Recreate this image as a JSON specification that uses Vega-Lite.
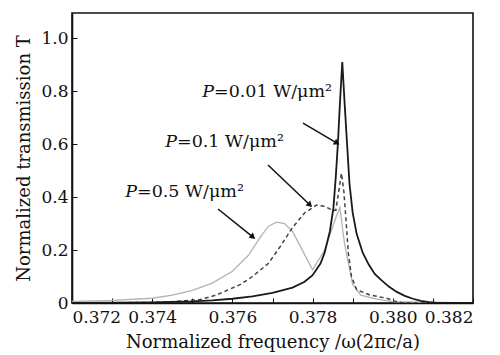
{
  "$schema": "https://vega.github.io/schema/vega-lite/v6.json",
  "width": 401,
  "height": 290,
  "autosize": "none",
  "padding": {"left": 72, "top": 13, "right": 27, "bottom": 52},
  "background": "white",
  "config": {
    "view": {"stroke": "#111", "strokeWidth": 1.6},
    "font": "DejaVu Serif",
    "axis": {
      "domainColor": "#111", "domainWidth": 1.6, "tickColor": "#111", "tickWidth": 1,
      "labelFont": "DejaVu Serif", "titleFont": "DejaVu Serif", "labelColor": "#111", "titleColor": "#111",
      "labelFontSize": 17, "titleFontSize": 18, "titleFontWeight": "normal", "grid": false
    }
  },
  "datasets": {
    "curves": [
      {"f": 0.3720, "T": 0.0, "s": "P=0.01"},
      {"f": 0.3740, "T": 0.002, "s": "P=0.01"},
      {"f": 0.3750, "T": 0.006, "s": "P=0.01"},
      {"f": 0.3755, "T": 0.010, "s": "P=0.01"},
      {"f": 0.3760, "T": 0.016, "s": "P=0.01"},
      {"f": 0.3765, "T": 0.025, "s": "P=0.01"},
      {"f": 0.3770, "T": 0.038, "s": "P=0.01"},
      {"f": 0.3775, "T": 0.058, "s": "P=0.01"},
      {"f": 0.3778, "T": 0.08, "s": "P=0.01"},
      {"f": 0.3780, "T": 0.105, "s": "P=0.01"},
      {"f": 0.3782, "T": 0.15, "s": "P=0.01"},
      {"f": 0.3783, "T": 0.19, "s": "P=0.01"},
      {"f": 0.37843, "T": 0.27, "s": "P=0.01"},
      {"f": 0.37852, "T": 0.36, "s": "P=0.01"},
      {"f": 0.37858, "T": 0.48, "s": "P=0.01"},
      {"f": 0.37863, "T": 0.60, "s": "P=0.01"},
      {"f": 0.37868, "T": 0.75, "s": "P=0.01"},
      {"f": 0.37874, "T": 0.91, "s": "P=0.01"},
      {"f": 0.37880, "T": 0.75, "s": "P=0.01"},
      {"f": 0.37886, "T": 0.60, "s": "P=0.01"},
      {"f": 0.37892, "T": 0.45, "s": "P=0.01"},
      {"f": 0.37900, "T": 0.34, "s": "P=0.01"},
      {"f": 0.37910, "T": 0.26, "s": "P=0.01"},
      {"f": 0.37925, "T": 0.19, "s": "P=0.01"},
      {"f": 0.37940, "T": 0.145, "s": "P=0.01"},
      {"f": 0.37955, "T": 0.11, "s": "P=0.01"},
      {"f": 0.37970, "T": 0.088, "s": "P=0.01"},
      {"f": 0.37990, "T": 0.062, "s": "P=0.01"},
      {"f": 0.38010, "T": 0.042, "s": "P=0.01"},
      {"f": 0.38030, "T": 0.027, "s": "P=0.01"},
      {"f": 0.38050, "T": 0.016, "s": "P=0.01"},
      {"f": 0.38070, "T": 0.008, "s": "P=0.01"},
      {"f": 0.38090, "T": 0.003, "s": "P=0.01"},
      {"f": 0.38110, "T": 0.0, "s": "P=0.01"},
      {"f": 0.38200, "T": 0.0, "s": "P=0.01"},

      {"f": 0.3720, "T": 0.0, "s": "P=0.1"},
      {"f": 0.3740, "T": 0.002, "s": "P=0.1"},
      {"f": 0.3745, "T": 0.005, "s": "P=0.1"},
      {"f": 0.3752, "T": 0.013, "s": "P=0.1"},
      {"f": 0.3756, "T": 0.03, "s": "P=0.1"},
      {"f": 0.3759, "T": 0.05, "s": "P=0.1"},
      {"f": 0.3762, "T": 0.07, "s": "P=0.1"},
      {"f": 0.3765, "T": 0.10, "s": "P=0.1"},
      {"f": 0.3769, "T": 0.15, "s": "P=0.1"},
      {"f": 0.3772, "T": 0.215, "s": "P=0.1"},
      {"f": 0.3775, "T": 0.285, "s": "P=0.1"},
      {"f": 0.3778, "T": 0.34, "s": "P=0.1"},
      {"f": 0.3781, "T": 0.37, "s": "P=0.1"},
      {"f": 0.3783, "T": 0.365, "s": "P=0.1"},
      {"f": 0.3785, "T": 0.35, "s": "P=0.1"},
      {"f": 0.37858, "T": 0.35, "s": "P=0.1"},
      {"f": 0.37865, "T": 0.42, "s": "P=0.1"},
      {"f": 0.37872, "T": 0.49, "s": "P=0.1"},
      {"f": 0.37878, "T": 0.42, "s": "P=0.1"},
      {"f": 0.37883, "T": 0.32, "s": "P=0.1"},
      {"f": 0.37889, "T": 0.19, "s": "P=0.1"},
      {"f": 0.37897, "T": 0.10, "s": "P=0.1"},
      {"f": 0.37910, "T": 0.05, "s": "P=0.1"},
      {"f": 0.37943, "T": 0.03, "s": "P=0.1"},
      {"f": 0.37985, "T": 0.018, "s": "P=0.1"},
      {"f": 0.38005, "T": 0.007, "s": "P=0.1"},
      {"f": 0.38025, "T": 0.0, "s": "P=0.1"},
      {"f": 0.38200, "T": 0.0, "s": "P=0.1"},

      {"f": 0.3720, "T": 0.006, "s": "P=0.5"},
      {"f": 0.3730, "T": 0.01, "s": "P=0.5"},
      {"f": 0.3740, "T": 0.018, "s": "P=0.5"},
      {"f": 0.3745, "T": 0.03, "s": "P=0.5"},
      {"f": 0.3750, "T": 0.048, "s": "P=0.5"},
      {"f": 0.3755, "T": 0.075, "s": "P=0.5"},
      {"f": 0.3760, "T": 0.12, "s": "P=0.5"},
      {"f": 0.3764, "T": 0.18, "s": "P=0.5"},
      {"f": 0.3767, "T": 0.25, "s": "P=0.5"},
      {"f": 0.3769, "T": 0.29, "s": "P=0.5"},
      {"f": 0.3771, "T": 0.305, "s": "P=0.5"},
      {"f": 0.3773, "T": 0.30, "s": "P=0.5"},
      {"f": 0.3775, "T": 0.27, "s": "P=0.5"},
      {"f": 0.3780, "T": 0.125, "s": "P=0.5"},
      {"f": 0.3783, "T": 0.2, "s": "P=0.5"},
      {"f": 0.3786, "T": 0.33, "s": "P=0.5"},
      {"f": 0.37868, "T": 0.36, "s": "P=0.5"},
      {"f": 0.3788, "T": 0.22, "s": "P=0.5"},
      {"f": 0.3790, "T": 0.07, "s": "P=0.5"},
      {"f": 0.3792, "T": 0.03, "s": "P=0.5"},
      {"f": 0.3796, "T": 0.015, "s": "P=0.5"},
      {"f": 0.3800, "T": 0.005, "s": "P=0.5"},
      {"f": 0.3820, "T": 0.0, "s": "P=0.5"}
    ],
    "arrows": [
      {"id": 1, "f1": 0.377761, "T1": 0.679, "f2": 0.378608, "T2": 0.604},
      {"id": 2, "f1": 0.376888, "T1": 0.521, "f2": 0.377935, "T2": 0.370},
      {"id": 3, "f1": 0.375641, "T1": 0.355, "f2": 0.376514, "T2": 0.249}
    ],
    "labels": [
      {"f": 0.375541, "T": 0.796, "rest": "=0.01 W/μm²"},
      {"f": 0.374618, "T": 0.608, "rest": "=0.1 W/μm²"},
      {"f": 0.373621, "T": 0.419, "rest": "=0.5 W/μm²"}
    ]
  },
  "layer": [
    {
      "data": {"name": "curves"},
      "transform": [{"filter": "datum.s === 'P=0.5'"}],
      "mark": {"type": "line", "color": "#b3b3b3", "strokeWidth": 1.3, "clip": true},
      "encoding": {
        "x": {"field": "f", "type": "quantitative", "scale": {"domain": [0.372, 0.382], "nice": false},
          "axis": {"values": [0.372, 0.373, 0.374, 0.375, 0.376, 0.377, 0.378, 0.379, 0.380, 0.381, 0.382],
            "labelExpr": "abs(round(datum.value*1000)) % 2 == 0 ? format(datum.value, '.3f') : ''",
            "tickSize": -5, "labelPadding": 11, "title": "Normalized frequency  /ω(2πc/a)", "titlePadding": 8}},
        "y": {"field": "T", "type": "quantitative", "scale": {"domain": [0, 1.095], "nice": false},
          "axis": {"values": [0, 0.1, 0.2, 0.3, 0.4, 0.5, 0.6, 0.7, 0.8, 0.9, 1.0],
            "labelExpr": "datum.value == 0 ? '0' : (round(datum.value*10) % 2 == 0 ? format(datum.value, '.1f') : '')",
            "tickSize": -5, "labelPadding": 9, "title": "Normalized transmission T", "titlePadding": 7}},
        "order": {"field": "f", "type": "quantitative"}
      }
    },
    {
      "data": {"name": "curves"},
      "transform": [{"filter": "datum.s === 'P=0.1'"}],
      "mark": {"type": "line", "color": "#444", "strokeWidth": 1.5, "strokeDash": [4, 3], "clip": true},
      "encoding": {
        "x": {"field": "f", "type": "quantitative"},
        "y": {"field": "T", "type": "quantitative"},
        "order": {"field": "f", "type": "quantitative"}
      }
    },
    {
      "data": {"name": "curves"},
      "transform": [{"filter": "datum.s === 'P=0.01'"}],
      "mark": {"type": "line", "color": "#1a1a1a", "strokeWidth": 1.8, "clip": true},
      "encoding": {
        "x": {"field": "f", "type": "quantitative"},
        "y": {"field": "T", "type": "quantitative"},
        "order": {"field": "f", "type": "quantitative"}
      }
    },
    {
      "data": {"name": "arrows"},
      "mark": {"type": "rule", "color": "#111", "strokeWidth": 1.5},
      "encoding": {
        "x": {"field": "f1", "type": "quantitative"},
        "y": {"field": "T1", "type": "quantitative"},
        "x2": {"field": "f2"},
        "y2": {"field": "T2"}
      }
    },
    {
      "data": {"name": "arrows"},
      "transform": [{"filter": "datum.id == 1"}],
      "mark": {"type": "point", "shape": "triangle-up", "filled": true, "color": "#111", "size": 45, "angle": 120, "opacity": 1},
      "encoding": {
        "x": {"field": "f2", "type": "quantitative"},
        "y": {"field": "T2", "type": "quantitative"}
      }
    },
    {
      "data": {"name": "arrows"},
      "transform": [{"filter": "datum.id == 2"}],
      "mark": {"type": "point", "shape": "triangle-up", "filled": true, "color": "#111", "size": 45, "angle": 134, "opacity": 1},
      "encoding": {
        "x": {"field": "f2", "type": "quantitative"},
        "y": {"field": "T2", "type": "quantitative"}
      }
    },
    {
      "data": {"name": "arrows"},
      "transform": [{"filter": "datum.id == 3"}],
      "mark": {"type": "point", "shape": "triangle-up", "filled": true, "color": "#111", "size": 45, "angle": 129, "opacity": 1},
      "encoding": {
        "x": {"field": "f2", "type": "quantitative"},
        "y": {"field": "T2", "type": "quantitative"}
      }
    },
    {
      "data": {"name": "labels"},
      "mark": {"type": "text", "text": "P", "align": "right", "baseline": "middle", "font": "DejaVu Serif", "fontStyle": "italic", "fontSize": 17.5, "color": "#111"},
      "encoding": {
        "x": {"field": "f", "type": "quantitative"},
        "y": {"field": "T", "type": "quantitative"}
      }
    },
    {
      "data": {"name": "labels"},
      "mark": {"type": "text", "align": "left", "baseline": "middle", "font": "DejaVu Serif", "fontSize": 17.5, "color": "#111"},
      "encoding": {
        "x": {"field": "f", "type": "quantitative"},
        "y": {"field": "T", "type": "quantitative"},
        "text": {"field": "rest"}
      }
    }
  ]
}
